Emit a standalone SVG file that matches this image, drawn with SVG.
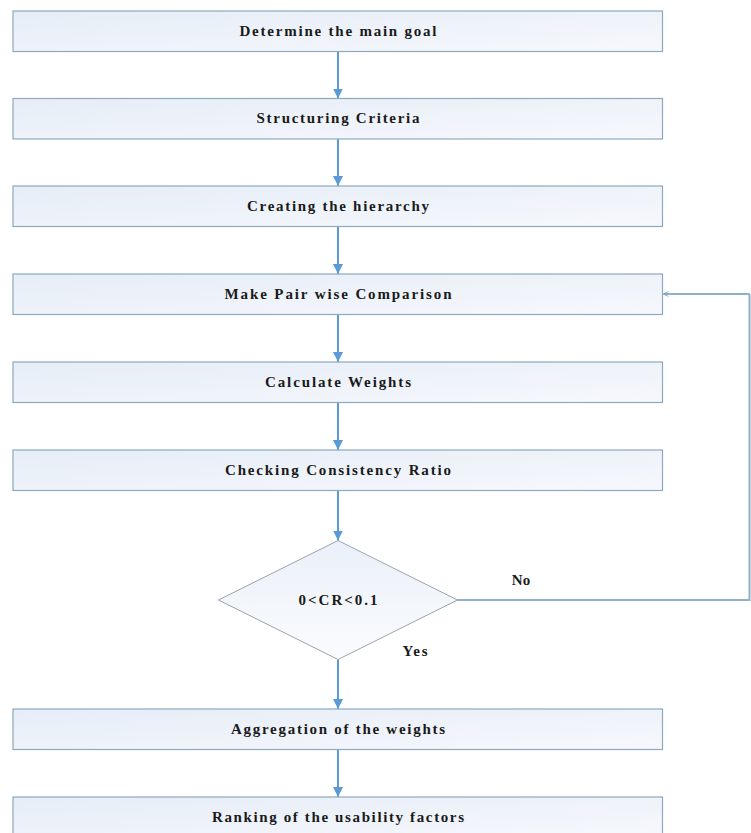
<svg xmlns="http://www.w3.org/2000/svg" width="751" height="833" viewBox="0 0 751 833">
  <defs>
    <linearGradient id="boxFill" x1="0" y1="0" x2="1" y2="1">
      <stop offset="0" stop-color="#e6edf7"/>
      <stop offset="1" stop-color="#f6f8fc"/>
    </linearGradient>
    <linearGradient id="diamondFill" x1="0" y1="0" x2="0" y2="1">
      <stop offset="0" stop-color="#eaf0f8"/>
      <stop offset="1" stop-color="#fbfcfe"/>
    </linearGradient>
    <marker id="arrowBlue" viewBox="0 0 10 10" refX="10" refY="5" markerWidth="5" markerHeight="5" markerUnits="strokeWidth" orient="auto">
      <path d="M0,0 L10,5 L0,10 Z" fill="#5b9bd5"/>
    </marker>
    <marker id="arrowOpen" viewBox="0 0 10 10" refX="9" refY="5" markerWidth="6" markerHeight="6" markerUnits="userSpaceOnUse" orient="auto">
      <path d="M1,1 L9,5 L1,9" fill="none" stroke="#7a9fc2" stroke-width="1.5"/>
    </marker>
  </defs>
  <style>
    .box { fill: url(#boxFill); stroke: #8ea9bf; stroke-width: 1.2; }
    .diamond { fill: url(#diamondFill); stroke: #9aa3ad; stroke-width: 1; }
    .label { font-family: "Liberation Serif", "Times New Roman", serif; font-weight: bold; font-size: 15px; fill: #1a1a1a; text-anchor: middle; }
    .flow { fill: none; stroke: #5b9bd5; stroke-width: 2; marker-end: url(#arrowBlue); }
    .loop { fill: none; stroke: #8eb0c8; stroke-width: 2; }
  </style>

  <rect width="751" height="833" fill="#ffffff"/>

  <!-- connectors -->
  <g id="connectors">
    <line class="flow" x1="338" y1="51.5" x2="338" y2="98.5"/>
    <line class="flow" x1="338" y1="139" x2="338" y2="186"/>
    <line class="flow" x1="338" y1="226.5" x2="338" y2="274"/>
    <line class="flow" x1="338" y1="314.5" x2="338" y2="362"/>
    <line class="flow" x1="338" y1="402.5" x2="338" y2="450"/>
    <line class="flow" x1="338" y1="490.5" x2="338" y2="540.5"/>
    <line class="flow" x1="338" y1="659.5" x2="338" y2="709"/>
    <line class="flow" x1="338" y1="749.5" x2="338" y2="797"/>
    <!-- "No" branch back to the pairwise comparison step -->
    <polyline class="loop" points="457.5,600 749.5,600 749.5,294"/>
    <line class="loop" x1="749.5" y1="294" x2="663.5" y2="294" marker-end="url(#arrowOpen)"/>
    <text class="label" x="521" y="584.5">No</text>
    <text class="label" x="415" y="655.5" textLength="25" lengthAdjust="spacing">Yes</text>
  </g>

  <g id="goal">
    <rect class="box" x="13" y="11" width="649.5" height="40.5"/>
    <text class="label" x="338" y="35.5" textLength="197" lengthAdjust="spacing">Determine the main goal</text>
  </g>
  <g id="criteria">
    <rect class="box" x="13" y="98.5" width="649.5" height="40.5"/>
    <text class="label" x="338" y="123" textLength="163" lengthAdjust="spacing">Structuring Criteria</text>
  </g>
  <g id="hierarchy">
    <rect class="box" x="13" y="186" width="649.5" height="40.5"/>
    <text class="label" x="338" y="210.5" textLength="182" lengthAdjust="spacing">Creating the hierarchy</text>
  </g>
  <g id="pairwise">
    <rect class="box" x="13" y="274" width="649.5" height="40.5"/>
    <text class="label" x="338" y="298.5" textLength="227" lengthAdjust="spacing">Make Pair wise Comparison</text>
  </g>
  <g id="weights">
    <rect class="box" x="13" y="362" width="649.5" height="40.5"/>
    <text class="label" x="338" y="386.5" textLength="146" lengthAdjust="spacing">Calculate Weights</text>
  </g>
  <g id="consistency">
    <rect class="box" x="13" y="450" width="649.5" height="40.5"/>
    <text class="label" x="338" y="474.5" textLength="226" lengthAdjust="spacing">Checking Consistency Ratio</text>
  </g>
  <g id="decision">
    <polygon class="diamond" points="338,540.5 457.5,600 338,659.5 218.5,600"/>
    <text class="label" x="338" y="605" textLength="79" lengthAdjust="spacing">0&lt;CR&lt;0.1</text>
  </g>
  <g id="aggregation">
    <rect class="box" x="13" y="709" width="649.5" height="40.5"/>
    <text class="label" x="338" y="734" textLength="214" lengthAdjust="spacing">Aggregation of the weights</text>
  </g>
  <g id="ranking">
    <rect class="box" x="13" y="797" width="649.5" height="40.5"/>
    <text class="label" x="338" y="821.5" textLength="252" lengthAdjust="spacing">Ranking of the usability factors</text>
  </g>
</svg>
